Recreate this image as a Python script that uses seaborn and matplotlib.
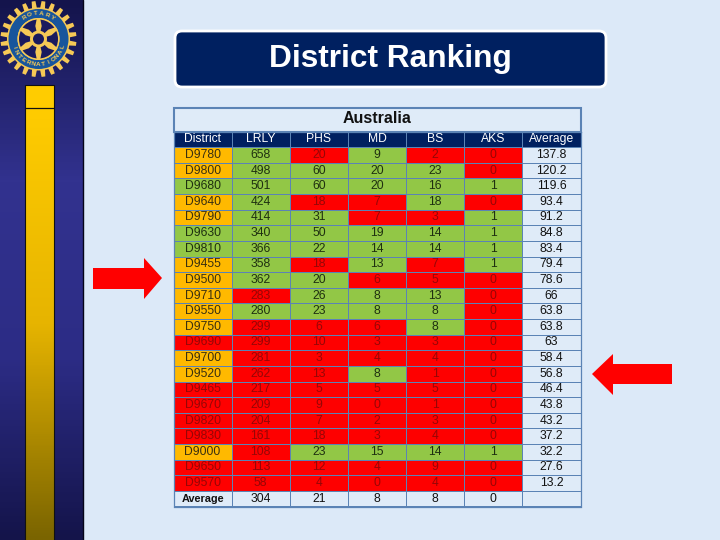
import numpy as np
import matplotlib
matplotlib.use("Agg")
import matplotlib.pyplot as plt
from matplotlib.colors import ListedColormap, LinearSegmentedColormap
from matplotlib.patches import Circle, FancyBboxPatch, Polygon, Rectangle, Wedge
import seaborn as sns

# === Data ===
columns = ["District", "LRLY", "PHS", "MD", "BS", "AKS", "Average"]
districts = ["D9780", "D9800", "D9680", "D9640", "D9790", "D9630", "D9810", "D9455",
             "D9500", "D9710", "D9550", "D9750", "D9690", "D9700", "D9520", "D9465",
             "D9670", "D9820", "D9830", "D9000", "D9650", "D9570"]
lrly = [658, 498, 501, 424, 414, 340, 366, 358, 362, 283, 280, 299, 299, 281, 262, 217, 209, 204, 161, 108, 113, 58]
phs = [20, 60, 60, 18, 31, 50, 22, 18, 20, 26, 23, 6, 10, 3, 13, 5, 9, 7, 18, 23, 12, 4]
md = [9, 20, 20, 7, 7, 19, 14, 13, 6, 8, 8, 6, 3, 4, 8, 5, 0, 2, 3, 15, 4, 0]
bs = [2, 23, 16, 18, 3, 14, 14, 7, 5, 13, 8, 8, 3, 4, 1, 5, 1, 3, 4, 14, 9, 4]
aks = [0, 0, 1, 0, 1, 1, 1, 1, 0, 0, 0, 0, 0, 0, 0, 0, 0, 0, 0, 1, 0, 0]
average = ["137.8", "120.2", "119.6", "93.4", "91.2", "84.8", "83.4", "79.4", "78.6", "66", "63.8",
           "63.8", "63", "58.4", "56.8", "46.4", "43.8", "43.2", "37.2", "32.2", "27.6", "13.2"]
average_row = ["Average", "304", "21", "8", "8", "0", ""]

# R red, G green, O orange, one string per column, top to bottom
status_district = "OOGOOGGOOOOORO" + "ORRRROR" + "R"
status_lrly = "GGGGGGGGGRGRRRRRRRRRRR"
status_phs = "RGGRGGGRGGGRRRRRRRRGRR"
status_md = "GGGRRGGGRGGRRRGRRRRGRR"
status_bs = "RGGGRGGRRGGGRRRRRRRGRR"
status_aks = "RRGRGGGGRRRRRRRRRRRGRR"

NAVY = "#002060"
RED = "#fe0000"
GREEN = "#92c746"
ORANGE = "#ffb900"
PALE = "#dfebf8"
BG = "#dce9f8"
LINE = "#5b83b5"
GOLD = "#f6c956"
BLUE = "#17559c"
WHEEL_BG = "#1a1a5e"

# === Build table ===
code = {"R": 0, "G": 1, "O": 2}
status_cols = [status_district, status_lrly, status_phs, status_md, status_bs, status_aks]
body = np.array([[code[s[i]] for s in status_cols] + [4] for i in range(len(districts))])
header_row = np.full((1, 7), 3)
footer_row = np.full((1, 7), 4)
cells = np.vstack([header_row, body, footer_row])

labels = [columns]
for i, d in enumerate(districts):
    labels.append([d, str(lrly[i]), str(phs[i]), str(md[i]), str(bs[i]), str(aks[i]), average[i]])
labels.append(average_row)
labels = np.array(labels)

sns.set_theme(style="white")
plt.rcParams["font.family"] = ["Liberation Sans", "DejaVu Sans"]

fig = plt.figure(figsize=(7.2, 5.4), dpi=100, facecolor=BG)

# pixel coordinate overlay for the slide furniture
bg = fig.add_axes([0, 0, 1, 1])
bg.axis("off")

# sidebar
side = LinearSegmentedColormap.from_list("side", ["#14144c", "#32328f", "#2c2c85", "#14144a"])
bg.imshow(np.linspace(0, 1, 270).reshape(-1, 1), extent=(0, 83, 540, 0), cmap=side, aspect="auto", zorder=1)
bar = LinearSegmentedColormap.from_list("bar", ["#ffcc00", "#e6b400", "#7a6400"])
bg.imshow(np.linspace(0, 1, 220).reshape(-1, 1), extent=(25, 54, 540, 108), cmap=bar, aspect="auto", zorder=2)
bg.add_patch(Rectangle((25, 85), 29, 22.5, fc="#ffcc00", ec="#111111", lw=0.8, zorder=3))
bg.add_patch(Rectangle((25, 107.5), 29, 440, fc="none", ec="#111111", lw=0.8, zorder=3))
bg.plot([83, 83], [0, 540], color="#050518", lw=1, zorder=3)
bg.set_xlim(0, 720)
bg.set_ylim(540, 0)


def curved(word, radius, mid_deg, step, top=True):
    # one letter at a time along the ring, reading left to right
    n = len(word)
    for k, ch in enumerate(word):
        off = (k - (n - 1) / 2) * step
        a = mid_deg - off if top else mid_deg + off
        t = np.radians(a)
        rot = a - 90 if top else a + 90
        bg.text(cx + radius * np.cos(t), cy - radius * np.sin(t), ch, color=GOLD, fontsize=4.6,
                fontweight="bold", ha="center", va="center", rotation=rot, zorder=8)


# rotary wheel
cx, cy, r = 38.5, 39, 30
c = np.array([cx, cy])
for a in np.arange(7.5, 360, 15):
    t = np.radians(a)
    u = np.array([np.cos(t), np.sin(t)])
    v = np.array([-u[1], u[0]])
    pts = [c + u * r + v * 2.5, c + u * (r + 8) + v * 1.9, c + u * (r + 8) - v * 1.9, c + u * r - v * 2.5]
    bg.add_patch(Polygon(pts, fc=GOLD, ec="none", zorder=4))
bg.add_patch(Circle((cx, cy), r + 1.5, fc=GOLD, ec="none", zorder=4))
bg.add_patch(Wedge((cx, cy), r, 0, 360, width=9, fc=BLUE, ec="none", zorder=5))
bg.add_patch(Circle((cx, cy), r - 9, fc=GOLD, ec="none", zorder=5))
bg.add_patch(Circle((cx, cy), r - 10.5, fc=WHEEL_BG, ec="none", zorder=5))
for a in np.arange(30, 360, 60):
    t = np.radians(a)
    u = np.array([np.cos(t), np.sin(t)])
    v = np.array([-u[1], u[0]])
    pts = [c + u * 6 + v * 1.5, c + u * 13 + v * 3.2, c + u * 21 + v * 1.6,
           c + u * 21 - v * 1.6, c + u * 13 - v * 3.2, c + u * 6 - v * 1.5]
    bg.add_patch(Polygon(pts, fc=GOLD, ec="none", zorder=6))
bg.add_patch(Circle((cx, cy), 8.5, fc=GOLD, ec="none", zorder=6))
bg.add_patch(Circle((cx, cy), 5.5, fc=WHEEL_BG, ec="none", zorder=7))
curved("ROTARY", 25.5, 90, 13, top=True)
curved("INTERNATIONAL", 25.5, 270, 12, top=False)

# title box
bg.add_patch(FancyBboxPatch((175, 31), 431, 56, boxstyle="round,pad=0,rounding_size=7",
                            fc=NAVY, ec="white", lw=2, zorder=2))
bg.text(390, 59, "District Ranking", color="white", fontsize=22.8, fontweight="bold",
        ha="center", va="center", zorder=3)

# table title
bg.add_patch(Rectangle((173.5, 107.5), 407, 24, fc=PALE, ec=LINE, lw=1.5, zorder=2))
bg.text(377, 118.5, "Australia", color="#111111", fontsize=11.5, fontweight="bold", ha="center", va="center", zorder=3)

# arrows
bg.add_patch(Polygon([(93, 268), (144, 268), (144, 258), (162, 278), (144, 299), (144, 289), (93, 289)],
                     fc="#ff0000", ec="none", zorder=2))
bg.add_patch(Polygon([(672, 364), (613, 364), (613, 354), (592, 374), (613, 395), (613, 384), (672, 384)],
                     fc="#ff0000", ec="none", zorder=2))

# === Table ===
ax = fig.add_axes([173.5 / 720, 1 - 506.5 / 540, 407 / 720, 375 / 540])
cmap = ListedColormap([RED, GREEN, ORANGE, NAVY, PALE])
sns.heatmap(cells, ax=ax, cmap=cmap, vmin=-0.5, vmax=4.5, cbar=False, annot=labels, fmt="",
            linewidths=0.5, linecolor=LINE, xticklabels=False, yticklabels=False,
            annot_kws={"fontsize": 8.7})
ax.set_xlabel("")
ax.set_ylabel("")
for spine in ax.spines.values():
    spine.set_visible(True)
    spine.set_color(LINE)
    spine.set_linewidth(0.9)

# text colours follow the cell they sit on
flat = cells.ravel()
text_colors = {0: "#960606", 1: "#1f3010", 2: "#3a3010", 3: "#ffffff", 4: "#111111"}
for txt, c_val in zip(ax.texts, flat):
    txt.set_color(text_colors[int(c_val)])
ax.texts[-7].set_fontweight("bold")
ax.texts[-7].set_fontsize(7.8)

fig.savefig("out.png", dpi=100, facecolor=fig.get_facecolor())
